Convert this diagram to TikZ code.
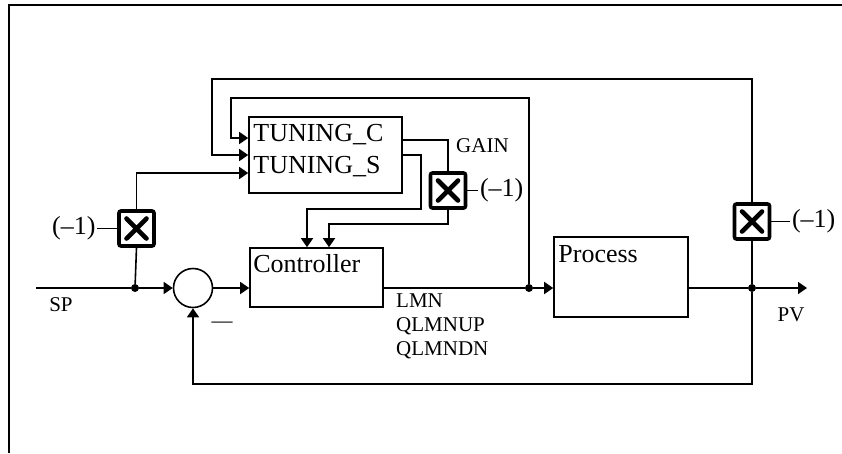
\documentclass[tikz,border=0pt]{standalone}
\usepackage{fontspec}
\setmainfont{Liberation Serif}
\usetikzlibrary{arrows.meta,positioning,calc}

\tikzset{
  blk/.style={draw,line width=1.6pt,inner sep=0pt},
  wire/.style={line width=1.6pt},
  sig/.style={line width=1.6pt,-{Triangle[length=9pt,width=12pt]}},
  dot/.style={circle,fill,inner sep=0pt,minimum size=8pt},
  sumc/.style={circle,draw,line width=1.6pt,inner sep=0pt,minimum size=39pt},
  mulbox/.style={draw,line width=3.6pt,rounded corners=2pt,fill=white,
    minimum size=35pt,inner sep=0pt,
    path picture={\draw[line width=4.6pt,line cap=round]
      ([shift={(-10pt,-10pt)}]path picture bounding box.center) --
      ([shift={(10pt,10pt)}]path picture bounding box.center)
      ([shift={(-10pt,10pt)}]path picture bounding box.center) --
      ([shift={(10pt,-10pt)}]path picture bounding box.center);}},
  bigtxt/.style={font=\fontsize{26}{30}\selectfont,inner sep=0pt},
  smalltxt/.style={font=\fontsize{21}{24}\selectfont,inner sep=0pt},
}

\begin{document}
\begin{tikzpicture}[x=1pt,y=-1pt]
  \useasboundingbox (0,0) rectangle (842,453);
  \draw[line width=1.5pt] (9,453) -- (9,5) -- (842,5);

  % blocks
  \node[blk,minimum width=153pt,minimum height=76pt] (tun) at (325.5,155) {};
  \node[blk,minimum width=133pt,minimum height=59pt] (ctrl) at (316.5,277.5) {};
  \node[blk,minimum width=134pt,minimum height=80pt] (proc) at (621,277) {};
  \node[sumc] (sum) at (193,288) {};

  \node[bigtxt,anchor=base west] (tunC) at ([shift={(5pt,-25pt)}]tun.north west) {TUNING\_C};
  \node[bigtxt,anchor=base west] (tunS) at ([shift={(5pt,-57pt)}]tun.north west) {TUNING\_S};
  \node[bigtxt,anchor=base west] (ctrltxt) at ([shift={(4pt,-25pt)}]ctrl.north west) {Controller};
  \node[bigtxt,anchor=base west] (proctxt) at ([shift={(5pt,-26pt)}]proc.north west) {Process};

  % multipliers
  \node[mulbox] (mL) at (136.5,228.5) {};
  \node[mulbox] (mG) at (448,190.5) {};
  \node[mulbox] (mR) at (752,221.5) {};
  \node[bigtxt,inner sep=1.5pt,left=20pt of mL] (kL) {(–1)};
  \node[bigtxt,inner sep=1.5pt,right=11pt of mG] (kG) {(–1)};
  \node[bigtxt,inner sep=1.5pt,right=19pt of mR] (kR) {(–1)};
  \draw[wire] (kL) -- (mL);
  \draw[wire] (mG) -- (kG);
  \draw[wire] (mR) -- (kR);

  % branch points
  \coordinate (spin) at (36,288);
  \node[dot] (j1) at (135,288) {};
  \node[dot] (j2) at (529,288) {};
  \node[dot] (j3) at (752,288) {};
  \coordinate (pvend) at (807,288);
  \coordinate (fb) at (752,384);

  % main path
  \draw[wire] (spin) -- (j1);
  \draw[sig] (j1) -- (sum.west);
  \draw[sig] (sum.east) -- (sum.east -| ctrl.west);
  \draw[wire] (ctrl.east |- j2) -- (j2);
  \draw[sig] (j2) -- (j2 -| proc.west);
  \draw[wire] (proc.east |- j3) -- (j3);
  \draw[sig] (j3) -- (pvend);
  \draw[sig] (j3) -- (fb) -| (sum.south);

  % tuning paths
  \draw[wire] (j1) -- (mL.south);
  \draw[sig] (mL.north) |- ([yshift=-18pt]tun.west);
  \draw[wire] (j3) -- (mR.south);
  \draw[sig] (mR.north) |- (212,79) |- (tun.west);
  \draw[sig] (j2) |- (231,98) |- ([yshift=17pt]tun.west);
  \draw[wire] ([yshift=15pt]tun.east) -| (mG.north);
  \draw[sig] (mG.south) |- (329,224) -- ([xshift=12.5pt]ctrl.north);
  \draw[sig] (tun.east) -| (421,209) -| ([xshift=-9.5pt]ctrl.north);

  % labels
  \node[smalltxt,anchor=west] (gain) at (456,146) {GAIN};
  \node[smalltxt,anchor=base west] (lmn) at (396,307) {LMN};
  \node[smalltxt,anchor=base west] (qup) at (396,331) {QLMNUP};
  \node[smalltxt,anchor=base west] (qdn) at (396,355) {QLMNDN};
  \node[smalltxt] (sp) at (61,305) {SP};
  \node[smalltxt] (pv) at (791,315) {PV};
  \node[smalltxt] (minus) at (222,325) {—};
\end{tikzpicture}
\end{document}
